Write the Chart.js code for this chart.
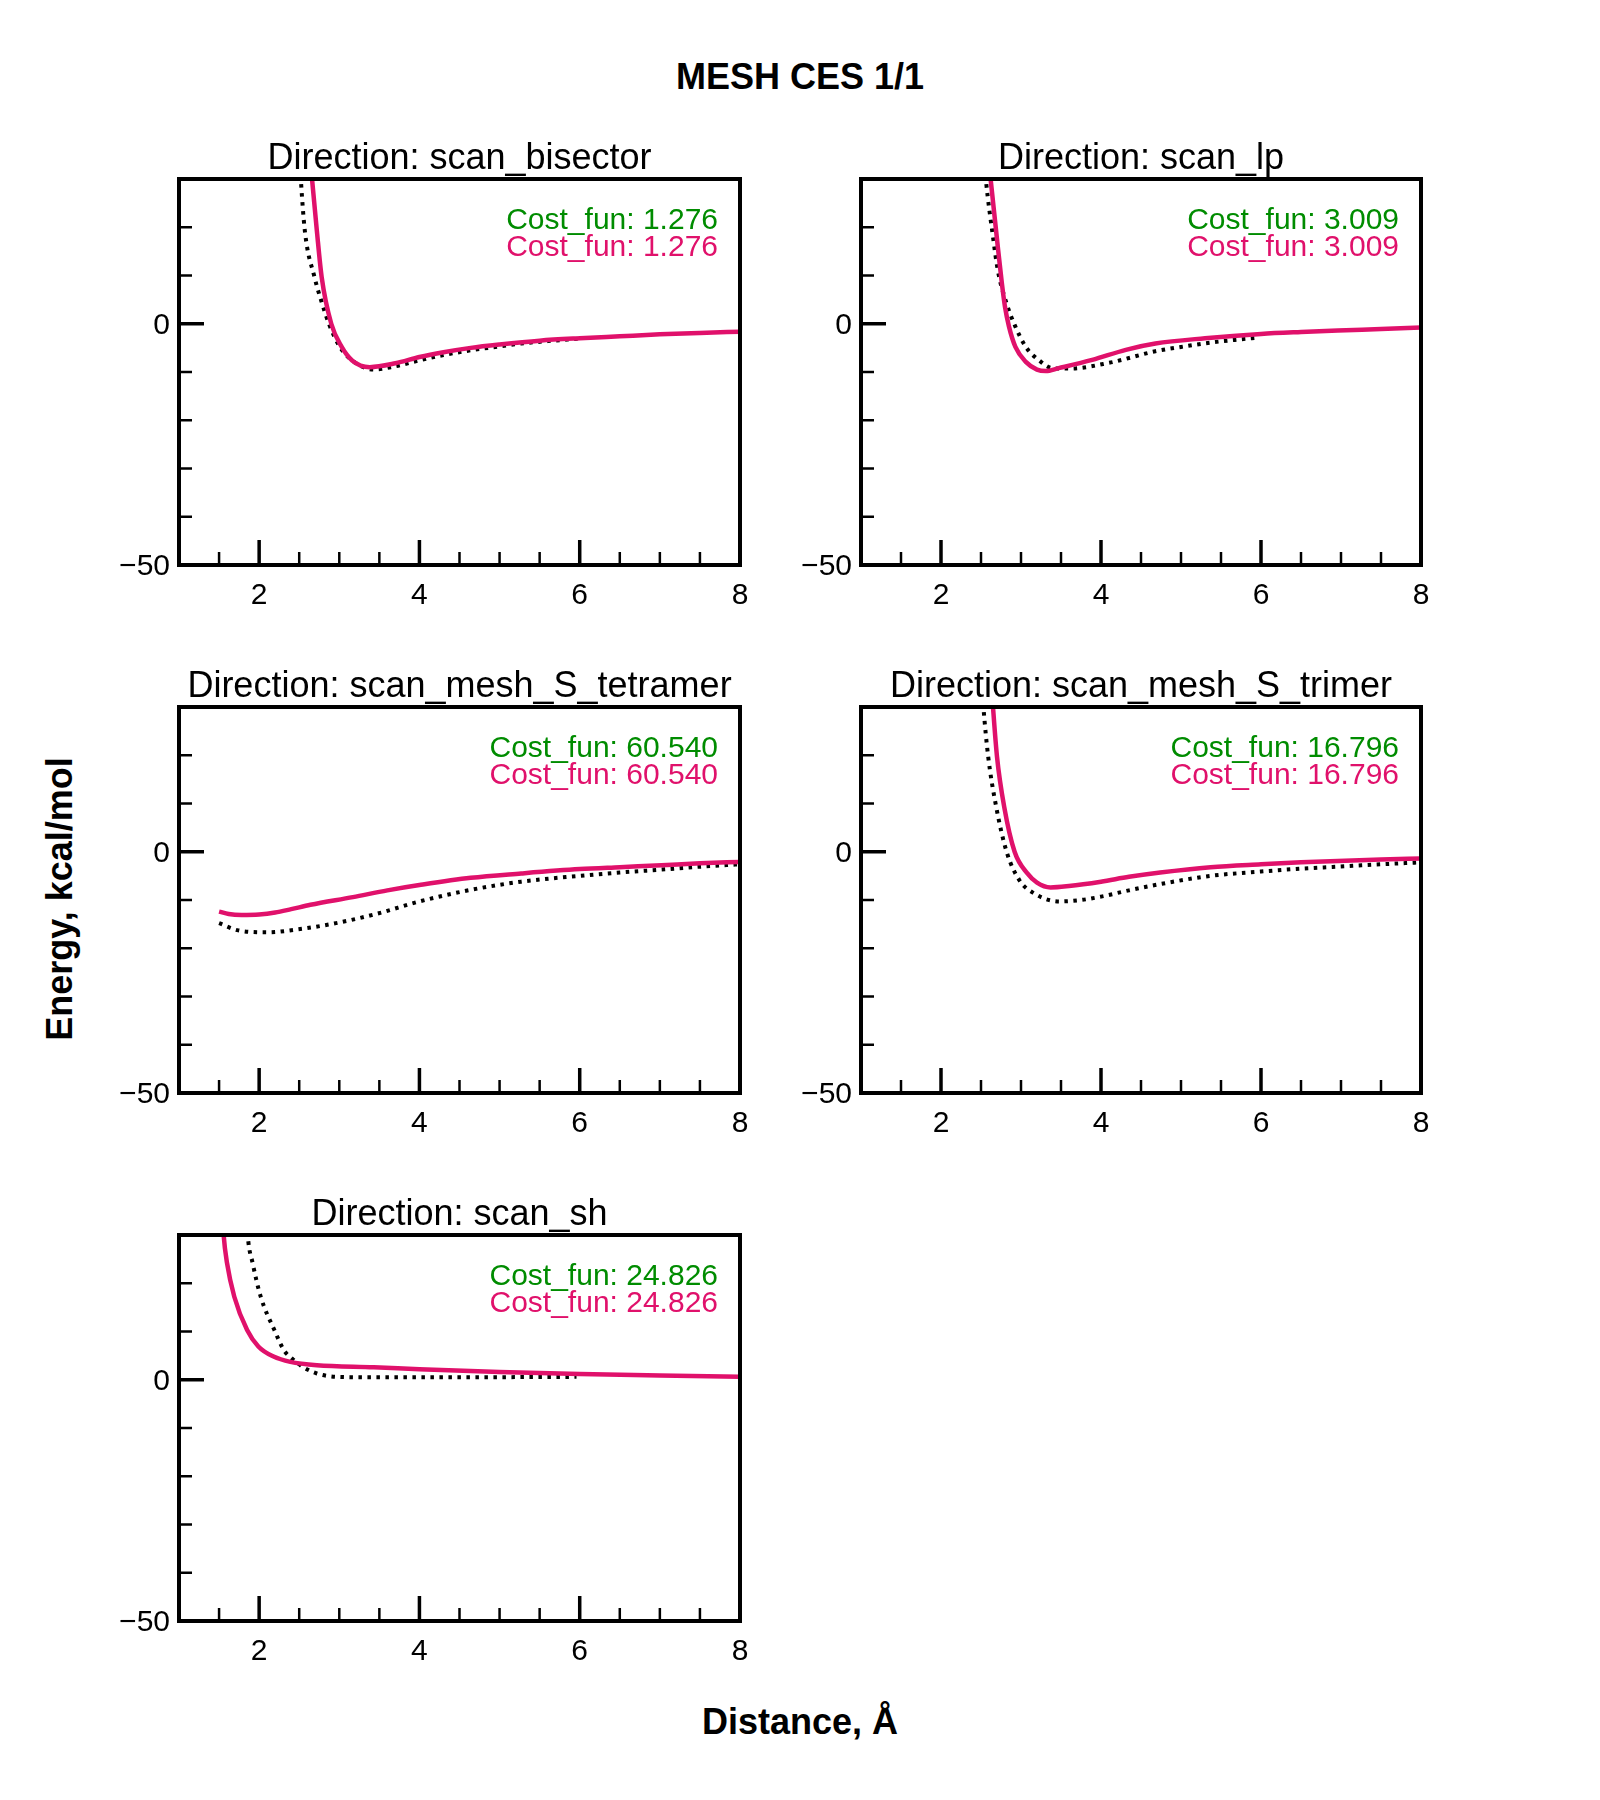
<!DOCTYPE html>
<html><head><meta charset="utf-8">
<script src="https://cdn.jsdelivr.net/npm/chart.js@4.4.1/dist/chart.umd.min.js"></script>
<style>
body{margin:0;background:#fff;width:1600px;height:1800px;position:relative;overflow:hidden;font-family:"Liberation Sans",Arial,sans-serif;}
canvas{position:absolute;}
.lbl{position:absolute;font-weight:bold;font-size:36px;line-height:40px;color:#000;white-space:nowrap;text-align:center;}
</style></head><body>
<div class="lbl" style="left:0;top:57px;width:1600px;">MESH CES 1/1</div>
<div class="lbl" style="left:0;top:1702px;width:1600px;">Distance, Å</div>
<div class="lbl" style="left:-140px;top:879px;width:400px;transform:rotate(-90deg);">Energy, kcal/mol</div>
<script>
// ---- tick definitions ----
const xMajorTicks = [2, 4, 6, 8];
const xMinorTicks = [1.5, 2.5, 3, 3.5, 4.5, 5, 5.5, 6.5, 7, 7.5];
const yMajorTicks = [-50, 0];
const yMinorTicks = [-40, -30, -20, -10, 10, 20];
const xRange = [1, 8];
const yRange = [-50, 30];

// ---- panel titles and cost values ----
const panelTitles = ['Direction: scan_bisector', 'Direction: scan_lp', 'Direction: scan_mesh_S_tetramer', 'Direction: scan_mesh_S_trimer', 'Direction: scan_sh'];
const costValues = ['1.276', '3.009', '60.540', '16.796', '24.826'];

// ---- scan_bisector ----
const bisectorFitX = [2.60, 2.66, 2.72, 2.78, 2.90, 3.03, 3.16, 3.38, 3.70, 4.00, 4.30, 4.64, 5.00, 5.50, 6.00, 6.50, 7.00, 7.50, 8.00];
const bisectorFitY = [42, 30, 19.3, 9.7, 0, -4.8, -7.6, -9.0, -8.2, -6.9, -5.9, -5.0, -4.3, -3.5, -3.0, -2.6, -2.2, -1.9, -1.65];
const bisectorRefX = [2.48, 2.52, 2.57, 2.69, 2.78, 2.87, 3.00, 3.16, 3.43, 3.70, 4.00, 4.30, 4.64, 5.00, 5.27, 5.60, 6.00];
const bisectorRefY = [42, 30, 19.3, 9.7, 4.5, 0, -4.6, -7.6, -9.5, -8.8, -7.6, -6.5, -5.5, -4.7, -4.1, -3.6, -3.1];

// ---- scan_lp ----
const lpFitX = [2.57, 2.62, 2.70, 2.76, 2.80, 2.85, 2.93, 3.06, 3.20, 3.31, 3.47, 3.89, 4.31, 4.68, 5.30, 6.00, 6.50, 6.96, 7.50, 8.00];
const lpFitY = [38, 30, 17.5, 8.5, 3.5, -0.6, -4.8, -7.9, -9.5, -9.8, -9.2, -7.5, -5.4, -4.1, -3.0, -2.1, -1.7, -1.4, -1.1, -0.8];
const lpRefX = [2.50, 2.56, 2.65, 2.71, 2.82, 2.93, 3.06, 3.22, 3.39, 3.60, 4.10, 4.68, 5.00, 5.37, 5.70, 5.96];
const lpRefY = [42, 30, 18, 11.1, 4.2, -0.6, -4.8, -7.5, -9.2, -9.3, -8.1, -5.7, -4.8, -3.9, -3.3, -2.9];

// ---- scan_mesh_S_tetramer ----
const tetramerFitX = [1.50, 1.62, 1.78, 2.00, 2.20, 2.40, 2.64, 3.17, 3.60, 4.00, 4.64, 5.27, 6.00, 6.50, 7.02, 7.50, 8.00];
const tetramerFitY = [-12.4, -12.9, -13.1, -13.0, -12.6, -11.9, -11.0, -9.4, -8.0, -6.9, -5.4, -4.5, -3.6, -3.2, -2.8, -2.4, -2.1];
const tetramerRefX = [1.50, 1.74, 2.11, 2.43, 2.96, 3.48, 4.00, 4.64, 5.27, 6.00, 6.50, 7.02, 7.50, 8.00];
const tetramerRefY = [-14.8, -16.3, -16.7, -16.2, -14.8, -12.8, -10.3, -7.9, -6.2, -5.0, -4.3, -3.7, -3.1, -2.6];

// ---- scan_mesh_S_trimer ----
const trimerFitX = [2.60, 2.65, 2.70, 2.79, 2.92, 3.08, 3.20, 3.37, 3.60, 4.00, 4.35, 4.74, 5.37, 6.00, 6.50, 6.96, 7.50, 8.00];
const trimerFitY = [42, 30, 19.7, 9.3, 0, -4.5, -6.4, -7.4, -7.1, -6.2, -5.2, -4.3, -3.2, -2.6, -2.2, -1.9, -1.6, -1.4];
const trimerRefX = [2.48, 2.53, 2.59, 2.69, 2.82, 2.98, 3.16, 3.48, 3.75, 4.00, 4.35, 4.74, 5.37, 6.00, 6.50, 6.96, 7.50, 8.00];
const trimerRefY = [42, 30, 19.7, 9.3, 0, -5.9, -8.6, -10.3, -10.0, -9.3, -8.0, -6.7, -5.0, -4.1, -3.5, -3.1, -2.6, -2.2];

// ---- scan_sh ----
const shFitX = [1.53, 1.557, 1.60, 1.69, 1.85, 1.99, 2.18, 2.39, 2.72, 3.43, 4.00, 5.00, 6.00, 7.00, 8.00];
const shFitY = [38, 30, 24.1, 17.2, 10.3, 6.9, 4.8, 3.7, 3.0, 2.6, 2.2, 1.6, 1.2, 0.9, 0.6];
const shRefX = [1.83, 1.857, 1.92, 2.02, 2.19, 2.31, 2.41, 2.55, 2.72, 2.97, 3.43, 4.50, 5.27, 5.96];
const shRefY = [38, 30, 24.1, 17.2, 10.3, 6.1, 4.4, 2.6, 1.3, 0.6, 0.5, 0.5, 0.55, 0.6];

const PINK = '#E0116B';
const GREEN = '#008C00';
const FONT = '"Liberation Sans", Arial, sans-serif';

const pts = (xs, ys) => xs.map((x, i) => ({x: x, y: ys[i]}));

const panelPlugin = {
  id: 'panelDeco',
  afterDatasetsDraw(chart, args, opts) {
    const ctx = chart.ctx, a = chart.chartArea, xs = chart.scales.x, ys = chart.scales.y;
    ctx.save();
    ctx.strokeStyle = '#000';
    ctx.lineCap = 'butt';
    const vt = (v, len, w) => { const p = xs.getPixelForValue(v); ctx.lineWidth = w; ctx.beginPath(); ctx.moveTo(p, a.bottom); ctx.lineTo(p, a.bottom - len); ctx.stroke(); };
    const ht = (v, len, w) => { const p = ys.getPixelForValue(v); ctx.lineWidth = w; ctx.beginPath(); ctx.moveTo(a.left, p); ctx.lineTo(a.left + len, p); ctx.stroke(); };
    xMinorTicks.forEach(v => vt(v, 13, 2.5));
    xMajorTicks.forEach(v => vt(v, 25, 3.5));
    yMinorTicks.forEach(v => ht(v, 13, 2.5));
    yMajorTicks.forEach(v => ht(v, 25, 3.5));
    ctx.lineWidth = 4;
    ctx.strokeRect(a.left, a.top, a.right - a.left, a.bottom - a.top);
    ctx.fillStyle = '#000';
    ctx.font = '36px ' + FONT;
    ctx.textAlign = 'center';
    ctx.textBaseline = 'alphabetic';
    ctx.fillText(opts.title, (a.left + a.right) / 2, a.top - 10);
    ctx.font = '30px ' + FONT;
    ctx.textAlign = 'right';
    ctx.fillStyle = GREEN;
    ctx.fillText('Cost_fun: ' + opts.cost, a.right - 22, a.top + 50);
    ctx.fillStyle = PINK;
    ctx.fillText('Cost_fun: ' + opts.cost, a.right - 22, a.top + 77);
    ctx.restore();
  }
};

const colLeft = [179, 861], colRight = [740, 1421];
const rowTop = [179, 707, 1235], rowBottom = [565, 1093, 1621];
const PADL = 90, PADR = 30, PADT = 70, PADB = 70;

const panels = [
  {col: 0, row: 0, fit: [bisectorFitX, bisectorFitY], ref: [bisectorRefX, bisectorRefY]},
  {col: 1, row: 0, fit: [lpFitX, lpFitY], ref: [lpRefX, lpRefY]},
  {col: 0, row: 1, fit: [tetramerFitX, tetramerFitY], ref: [tetramerRefX, tetramerRefY]},
  {col: 1, row: 1, fit: [trimerFitX, trimerFitY], ref: [trimerRefX, trimerRefY]},
  {col: 0, row: 2, fit: [shFitX, shFitY], ref: [shRefX, shRefY]}
];

panels.forEach((p, i) => {
  const l = colLeft[p.col], r = colRight[p.col], t = rowTop[p.row], b = rowBottom[p.row];
  const cv = document.createElement('canvas');
  const w = (r - l) + PADL + PADR, h = (b - t) + PADT + PADB;
  cv.width = w; cv.height = h;
  cv.style.left = (l - PADL) + 'px'; cv.style.top = (t - PADT) + 'px';
  cv.style.width = w + 'px'; cv.style.height = h + 'px';
  document.body.appendChild(cv);
  new Chart(cv, {
    type: 'line',
    data: {
      datasets: [
        {data: pts(p.fit[0], p.fit[1]), borderColor: PINK, borderWidth: 4.5, pointRadius: 0, fill: false, cubicInterpolationMode: 'monotone', capBezierPoints: false},
        {data: pts(p.ref[0], p.ref[1]), borderColor: '#000', borderWidth: 4, borderDash: [3.5, 5.5], borderCapStyle: 'butt', pointRadius: 0, fill: false, cubicInterpolationMode: 'monotone', capBezierPoints: false}
      ]
    },
    options: {
      responsive: false, animation: false, devicePixelRatio: 1,
      layout: {padding: {left: 0, right: PADR, top: PADT, bottom: 0}},
      plugins: {legend: {display: false}, tooltip: {enabled: false}, panelDeco: {title: panelTitles[i], cost: costValues[i]}},
      scales: {
        x: {
          type: 'linear', min: xRange[0], max: xRange[1],
          grid: {display: false, drawTicks: false}, border: {display: false},
          ticks: {color: '#000', font: {family: FONT, size: 30}, padding: 13, maxRotation: 0, autoSkip: false},
          afterBuildTicks: s => { s.ticks = xMajorTicks.map(v => ({value: v})); },
          afterFit: s => { s.height = PADB; }
        },
        y: {
          type: 'linear', min: yRange[0], max: yRange[1],
          grid: {display: false, drawTicks: false}, border: {display: false},
          ticks: {color: '#000', font: {family: FONT, size: 30}, padding: 9, labelOffset: 2, autoSkip: false,
                  callback: v => (v < 0 ? '\u2212' + Math.abs(v) : String(v))},
          afterBuildTicks: s => { s.ticks = yMajorTicks.map(v => ({value: v})); },
          afterFit: s => { s.width = PADL; }
        }
      }
    },
    plugins: [panelPlugin]
  });
});
</script>
</body></html>
